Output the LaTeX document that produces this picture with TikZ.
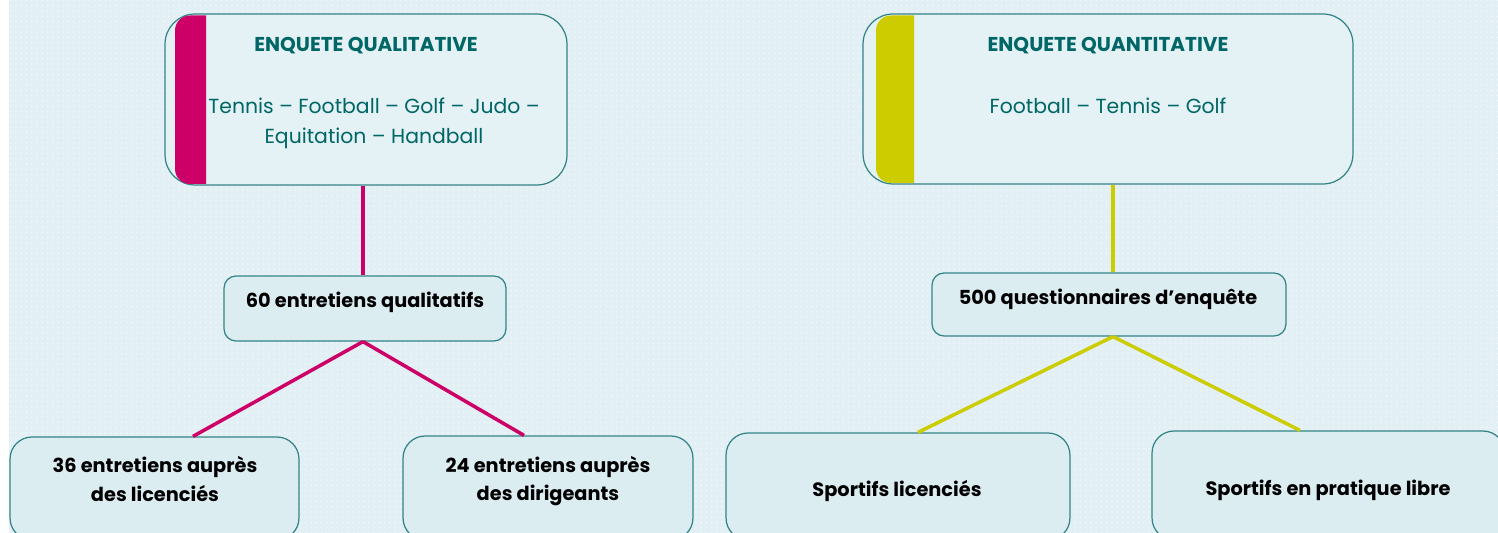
\documentclass[tikz,border=0pt]{standalone}
\usepackage{fontspec}
\setmainfont{Poppins}
\usetikzlibrary{patterns}
\definecolor{bgblue}{HTML}{E2F0F5}
\definecolor{boxfill}{HTML}{DCEDF2}
\definecolor{topfill}{HTML}{E4F1F5}
\definecolor{boxline}{HTML}{338486}
\definecolor{tealtext}{HTML}{006666}
\definecolor{qualcol}{HTML}{CC0066}
\definecolor{quantcol}{HTML}{CCCC00}
\tikzset{
  topbox/.style={draw=boxline, line width=0.7pt, fill=topfill, rounded corners=0.6cm, inner sep=0pt},
  midbox/.style={draw=boxline, line width=0.7pt, fill=boxfill, rounded corners=0.24cm, inner sep=0pt},
  lowbox/.style={draw=boxline, line width=0.7pt, fill=boxfill, rounded corners=0.44cm, inner sep=0pt},
  titletext/.style={font=\bfseries\fontsize{11.4}{14}\selectfont, text=tealtext},
  subtext/.style={font=\fontsize{11.6}{17}\selectfont, text=tealtext, align=center},
  labeltext/.style={font=\bfseries\fontsize{11}{16}\selectfont, text=black, align=center},
  qualline/.style={draw=qualcol, line width=2pt},
  quantline/.style={draw=quantcol, line width=2pt},
}
\begin{document}
\begin{tikzpicture}[x=0.02cm, y=-0.02cm]
\useasboundingbox (0,0) rectangle (1498,533);
\clip (0,0) rectangle (1498,533);
% page background with its fine dot texture
\fill[white] (0,0) rectangle (1498,533);
\fill[bgblue] (9,0) rectangle (1498,533);
\fill[pattern=dots, pattern color=white!55!bgblue] (9,0) rectangle (1498,533);

% ---- qualitative branch ----
\node[topbox, minimum width=8.04cm, minimum height=3.42cm] (t1) at (366,99.5) {};
\fill[qualcol] (206,15.5) [rounded corners=0.3cm] -- (175,15.5) -- (175,184) [sharp corners] -- (206,184) -- cycle;
\node[titletext] (t1title) at (366,46) {ENQUETE QUALITATIVE};
\node[subtext] (t1sub) at (374,123) {Tennis – Football – Golf – Judo –\\Equitation – Handball};

\node[midbox, minimum width=5.64cm, minimum height=1.3cm] (m1) at (365,308.5) {};
\node[labeltext] (m1text) at (365,302) {60 entretiens qualitatifs};

\node[lowbox, minimum width=5.78cm, minimum height=2.06cm] (b1) at (154.5,488.5) {};
\node[labeltext] (b1text) at (155,479) {36 entretiens auprès\\des licenciés};
\node[lowbox, minimum width=5.8cm, minimum height=2.08cm] (b2) at (548,488) {};
\node[labeltext] (b2text) at (548,481) {24 entretiens auprès\\des dirigeants};

\draw[qualline] ([xshift=-0.04cm]m1.north) -- ([xshift=-0.04cm]m1.north |- t1.south);
\draw[qualline] ([xshift=-0.04cm]m1.south) -- ([xshift=0.77cm]b1.north);
\draw[qualline] ([xshift=-0.04cm]m1.south) -- ([xshift=-0.48cm]b2.north);

% ---- quantitative branch ----
\node[topbox, minimum width=9.8cm, minimum height=3.4cm] (t2) at (1108,99) {};
\fill[quantcol] (914,15.5) [rounded corners=0.3cm] -- (876,15.5) -- (876,183) [sharp corners] -- (914,183) -- cycle;
\node[titletext] (t2title) at (1108,46) {ENQUETE QUANTITATIVE};
\node[subtext] (t2sub) at (1108,106) {Football – Tennis – Golf};

\node[midbox, minimum width=7.08cm, minimum height=1.26cm] (m2) at (1109,304.5) {};
\node[labeltext] (m2text) at (1108,299) {500 questionnaires d’enquête};

\node[lowbox, minimum width=6.88cm, minimum height=2.14cm] (r1) at (898,486.5) {};
\node[labeltext] (r1text) at (897,491) {Sportifs licenciés};
\node[lowbox, minimum width=7.06cm, minimum height=2.18cm] (r2) at (1328.5,485.5) {};
\node[labeltext] (r2text) at (1328,490) {Sportifs en pratique libre};

\draw[quantline] ([xshift=0.08cm]m2.north) -- ([xshift=0.08cm]m2.north |- t2.south);
\draw[quantline] ([xshift=0.08cm]m2.south) -- ([xshift=0.4cm]r1.north);
\draw[quantline] ([xshift=0.08cm]m2.south) -- ([xshift=-0.57cm]r2.north);
\end{tikzpicture}
\end{document}
